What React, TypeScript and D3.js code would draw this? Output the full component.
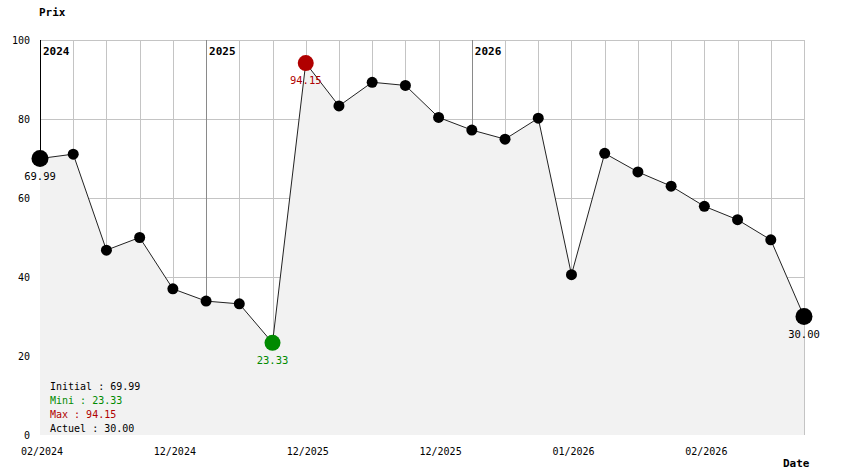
import React from "react";
import * as d3 from "d3";

const prices = [69.99, 71.1, 46.8, 50.0, 37.0, 33.9, 33.2, 23.33, 94.15, 83.3, 89.3, 88.5, 80.4, 77.2, 74.9, 80.2, 40.6, 71.3, 66.6, 63.0, 57.9, 54.5, 49.4, 30.0];
const xTickIdx = [0, 4, 8, 12, 16, 20];
const xTickLabels = ["02/2024", "12/2024", "12/2025", "12/2025", "01/2026", "02/2026"];
const yTicks = [0, 20, 40, 60, 80, 100];
const yearIdx = [0, 5, 13];
const yearLabels = ["2024", "2025", "2026"];
const legendLabels = ["Initial : 69.99", "Mini : 23.33", "Max : 94.15", "Actuel : 30.00"];

const W = 844, H = 474;
const FONT = "'DejaVu Sans Mono', monospace";

export default function App() {
  const x = d3.scaleLinear().domain([0, prices.length - 1]).range([40, 804]);
  const y = d3.scaleLinear().domain([0, 100]).range([435, 40]);
  const area = d3.area<number>().x((_, i) => x(i)).y0(y(0)).y1((d) => y(d));
  const line = d3.line<number>().x((_, i) => x(i)).y((d) => y(d));
  const minI = prices.indexOf(d3.min(prices)!);
  const maxI = prices.indexOf(d3.max(prices)!);
  const lastI = prices.length - 1;
  const green = "#008a00", red = "#b00000";
  const legendColors = ["#000", green, red, "#000"];
  const special: Record<number, { fill: string; r: number; text: string }> = {
    0: { fill: "#000", r: 8.5, text: "#000" },
    [minI]: { fill: green, r: 8, text: green },
    [maxI]: { fill: red, r: 8, text: red },
    [lastI]: { fill: "#000", r: 8.5, text: "#000" },
  };
  return (
    <svg width={W} height={H} style={{ position: "absolute", left: 0, top: 0 }} fontFamily={FONT}>
      <rect width={W} height={H} fill="#fff" />
      {yTicks.filter((t) => t > 0).map((t) => (
        <line key={"h" + t} x1={40} x2={804} y1={y(t) + 0.5} y2={y(t) + 0.5} stroke="#c4c4c4" />
      ))}
      {prices.map((_, i) => (
        <line key={"v" + i} x1={Math.round(x(i)) + 0.5} x2={Math.round(x(i)) + 0.5} y1={40} y2={435} stroke="#c4c4c4" />
      ))}
      {yearIdx.map((yi, k) => (
        <line key={"y" + k} x1={Math.round(x(yi)) + 0.5} x2={Math.round(x(yi)) + 0.5} y1={40} y2={435} stroke={k === 0 ? "#000" : "#8a8a8a"} />
      ))}
      <path d={area(prices)!} fill="#f2f2f2" />
      <path d={line(prices)!} fill="none" stroke="#222" strokeWidth={1} />
      {prices.map((p, i) => {
        const s = special[i];
        return <circle key={"c" + i} cx={x(i)} cy={y(p)} r={s ? s.r : 5.5} fill={s ? s.fill : "#000"} />;
      })}
      {[0, minI, maxI, lastI].map((i) => (
        <text key={"l" + i} x={x(i)} y={y(prices[i]) + 21} textAnchor="middle" fontSize={10.5} fill={special[i].text}>
          {prices[i].toFixed(2)}
        </text>
      ))}
      {yearIdx.map((yi, k) => (
        <text key={"yl" + k} x={x(yi) + 3} y={55} fontSize={11} fontWeight="bold">{yearLabels[k]}</text>
      ))}
      {yTicks.map((t) => (
        <text key={"yt" + t} x={30} y={y(t) + 4} textAnchor="end" fontSize={10}>{t}</text>
      ))}
      {xTickIdx.map((xi, k) => (
        <text key={"xt" + k} x={x(xi) + 2} y={455} textAnchor="middle" fontSize={10}>{xTickLabels[k]}</text>
      ))}
      <text x={39} y={16} fontSize={11} fontWeight="bold">Prix</text>
      <text x={783} y={467} fontSize={11} fontWeight="bold">Date</text>
      {legendLabels.map((l, k) => (
        <text key={"lg" + k} x={50} y={390 + k * 14} fontSize={10} fill={legendColors[k]}>{l}</text>
      ))}
    </svg>
  );
}
